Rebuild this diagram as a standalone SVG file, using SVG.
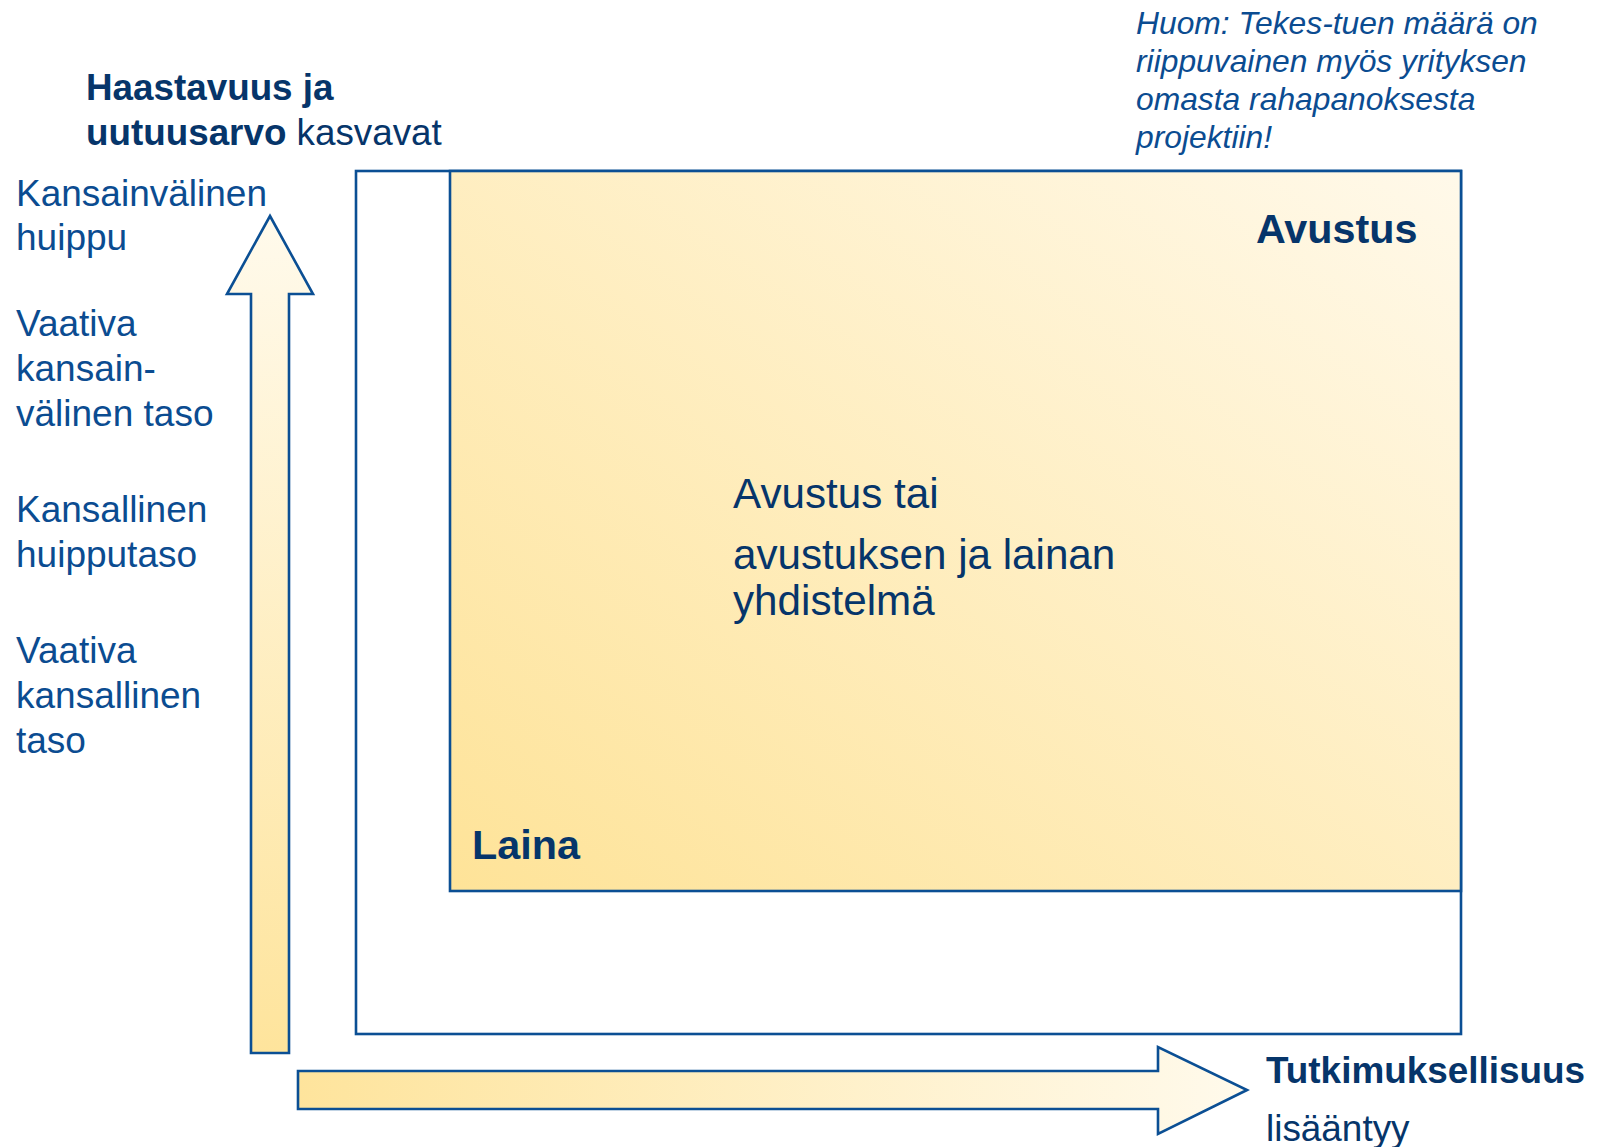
<svg xmlns="http://www.w3.org/2000/svg" width="1602" height="1147" viewBox="0 0 1602 1147">
<defs>
<linearGradient id="gBox" x1="0" y1="1" x2="1" y2="0">
<stop offset="0" stop-color="#FEE398"/>
<stop offset="1" stop-color="#FFF9EA"/>
</linearGradient>
<linearGradient id="gUp" x1="0" y1="1" x2="0" y2="0">
<stop offset="0" stop-color="#FEE49C"/>
<stop offset="1" stop-color="#FFFAEC"/>
</linearGradient>
<linearGradient id="gRight" x1="0" y1="0" x2="1" y2="0">
<stop offset="0" stop-color="#FEE49C"/>
<stop offset="1" stop-color="#FFFAEC"/>
</linearGradient>
<style>
.ln{stroke:#0B4F94;stroke-width:2.6;}
.t{font-family:"Liberation Sans",Arial,sans-serif;}
.b{font-weight:bold;fill:#06356A;}
.r{fill:#06356A;}
.lbl{fill:#0B4C91;font-size:37px;}
.note{fill:#0B4C91;font-size:31.8px;font-style:italic;}
</style>
</defs>
<rect width="1602" height="1147" fill="#FFFFFF"/>

<g id="outer-box">
<rect class="ln" x="356" y="171" width="1105" height="863" fill="#FFFFFF"/>
</g>
<g id="inner-box">
<rect class="ln" x="450" y="171" width="1011" height="720" fill="url(#gBox)"/>
<text class="t b" x="1256" y="243" font-size="41.3">Avustus</text>
<text class="t b" x="472" y="859" font-size="41.3">Laina</text>
<text class="t r" font-size="42.2"><tspan x="733" y="508">Avustus tai</tspan><tspan x="733" y="569">avustuksen ja lainan</tspan><tspan x="733" y="615">yhdistelmä</tspan></text>
</g>

<g id="connectors">
<polygon id="arrow-up" class="ln" fill="url(#gUp)" points="270,216 313,294 289,294 289,1053 251,1053 251,294 227,294"/>
<polygon id="arrow-right" class="ln" fill="url(#gRight)" points="1247,1090 1158,1134 1158,1109 298,1109 298,1071 1158,1071 1158,1047"/>
</g>

<g id="y-axis-title">
<text class="t r" font-size="36.8"><tspan x="86" y="100" font-weight="bold">Haastavuus ja</tspan><tspan x="86" y="145" font-weight="bold">uutuusarvo</tspan><tspan> kasvavat</tspan></text>
</g>

<g id="y-levels">
<text class="t lbl"><tspan x="16" y="206">Kansainvälinen</tspan><tspan x="16" y="250">huippu</tspan></text>
<text class="t lbl"><tspan x="16" y="336">Vaativa</tspan><tspan x="16" y="381">kansain-</tspan><tspan x="16" y="426">välinen taso</tspan></text>
<text class="t lbl"><tspan x="16" y="522">Kansallinen</tspan><tspan x="16" y="567">huipputaso</tspan></text>
<text class="t lbl"><tspan x="16" y="663">Vaativa</tspan><tspan x="16" y="708">kansallinen</tspan><tspan x="16" y="753">taso</tspan></text>
</g>

<g id="x-axis-title">
<text class="t r" font-size="36.9"><tspan x="1266" y="1083" font-weight="bold">Tutkimuksellisuus</tspan><tspan x="1266" y="1141">lisääntyy</tspan></text>
</g>

<g id="note">
<text class="t note"><tspan x="1136" y="34">Huom: Tekes-tuen määrä on</tspan><tspan x="1136" y="72">riippuvainen myös yrityksen</tspan><tspan x="1136" y="110">omasta rahapanoksesta</tspan><tspan x="1136" y="148">projektiin!</tspan></text>
</g>
</svg>
